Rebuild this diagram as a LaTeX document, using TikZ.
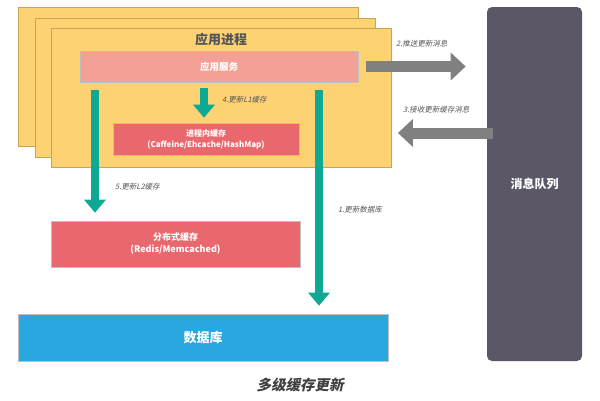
\documentclass[tikz,border=0pt]{standalone}
\usepackage{fontspec}
\setmainfont{Noto Sans CJK SC}
\newfontfamily\slanted[FakeSlant=0.22]{Noto Sans CJK SC}
\usetikzlibrary{arrows.meta}
\definecolor{procyellow}{HTML}{FDD272}
\definecolor{procedge}{HTML}{C9A456}
\definecolor{svcpink}{HTML}{F3A096}
\definecolor{cachered}{HTML}{E9686D}
\definecolor{dbblue}{HTML}{2BA7E0}
\definecolor{mqgray}{HTML}{5B5767}
\definecolor{teal}{HTML}{0EA995}
\definecolor{pushgray}{HTML}{808080}
\definecolor{labelgray}{HTML}{555555}

\begin{document}
\begin{tikzpicture}[x=1pt,y=-1pt,
  procbox/.style={fill=procyellow,draw=procedge,line width=0.8pt,minimum width=340pt,minimum height=139pt,inner sep=0pt},
  block/.style={draw=black!25,line width=0.6pt,text=white,font=\bfseries,align=center,inner sep=0pt},
  steplabel/.style={font=\slanted\fontsize{7.5}{9}\selectfont,text=labelgray,inner sep=0pt},
  tealarrow/.style={draw=teal,line width=8pt,-{Triangle[width=21pt,length=13pt]}},
  grayarrow/.style={draw=pushgray,line width=11pt,-{Triangle[width=27pt,length=15pt]}}]
\useasboundingbox (0,0) rectangle (600,400);

% application process stack
\node[procbox] (proc1) at (188,77) {};
\node[procbox] (proc2) at (205,87.5) {};
\node[procbox] (proc) at (221.5,97.5) {};
\node[font=\bfseries\fontsize{13}{15}\selectfont,text=labelgray] (title) at (221,40) {应用进程};

\node[block,fill=svcpink,minimum width=278pt,minimum height=31pt,font=\bfseries\fontsize{9.5}{11}\selectfont] (svc) at (219,66.5) {应用服务};
\node[block,fill=cachered,minimum width=186pt,minimum height=32pt,font=\bfseries\fontsize{8}{11}\selectfont] (l1) at (206,139) {进程内缓存\\(Caffeine/Ehcache/HashMap)};

% storage
\node[block,fill=cachered,minimum width=249pt,minimum height=46pt,font=\bfseries\fontsize{9}{12}\selectfont] (dist) at (175.5,244) {分布式缓存\\(Redis/Memcached)};
\node[block,fill=dbblue,minimum width=370pt,minimum height=47pt,font=\bfseries\fontsize{13}{15}\selectfont] (db) at (203,337.5) {数据库};
\node[block,fill=mqgray,draw=none,rounded corners=5pt,minimum width=95pt,minimum height=354pt,font=\bfseries\fontsize{12}{14}\selectfont] (mq) at (534.5,184) {消息队列};

% update steps
\draw[tealarrow,shorten <=8pt,shorten >=8pt] ([xshift=100pt]svc.south) -- ([xshift=100pt]svc.south |- db.north);
\draw[grayarrow,shorten <=8pt,shorten >=21pt] (svc.east) -- (svc.east -| mq.west);
\draw[grayarrow,shorten <=-6pt,shorten >=6pt] ([yshift=-35.5pt]proc.east -| mq.west) -- ([yshift=-35.5pt]proc.east);
\draw[tealarrow,shorten <=6pt,shorten >=5pt] ([xshift=-15pt]svc.south) -- ([xshift=-15pt]svc.south |- l1.north);
\draw[tealarrow,shorten <=8pt,shorten >=8pt] ([xshift=-124pt]svc.south) -- ([xshift=-124pt]svc.south |- dist.north);

\node[steplabel,anchor=west] (lab1) at (338,210) {1.更新数据库};
\node[steplabel,anchor=west] (lab2) at (396,44) {2.推送更新消息};
\node[steplabel,anchor=west] (lab3) at (403,110) {3.接收更新缓存消息};
\node[steplabel,anchor=west] (lab4) at (222,100) {4.更新L1缓存};
\node[steplabel,anchor=west] (lab5) at (115,187) {5.更新L2缓存};

\node[font=\slanted\bfseries\fontsize{14.5}{16}\selectfont,text=black!75] (caption) at (300,385) {多级缓存更新};
\end{tikzpicture}
\end{document}
